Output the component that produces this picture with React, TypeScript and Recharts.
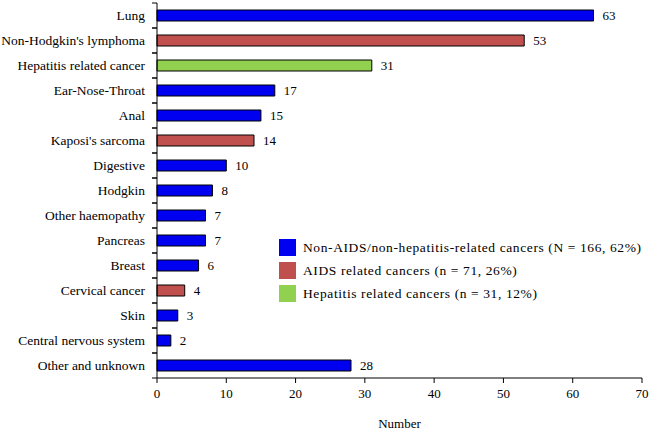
import { BarChart, Bar, XAxis, YAxis, Cell, LabelList } from 'recharts'

const categories = [
  'Lung',
  "Non-Hodgkin's lymphoma",
  'Hepatitis related cancer',
  'Ear-Nose-Throat',
  'Anal',
  "Kaposi's sarcoma",
  'Digestive',
  'Hodgkin',
  'Other haemopathy',
  'Pancreas',
  'Breast',
  'Cervical cancer',
  'Skin',
  'Central nervous system',
  'Other and unknown',
]
const counts = [63, 53, 31, 17, 15, 14, 10, 8, 7, 7, 6, 4, 3, 2, 28]
// 0 = non-AIDS/non-hepatitis, 1 = AIDS related, 2 = hepatitis related
const groups = [0, 1, 2, 0, 0, 1, 0, 0, 0, 0, 0, 1, 0, 0, 0]

const groupNames = [
  'Non-AIDS/non-hepatitis-related cancers (N = 166, 62%)',
  'AIDS related cancers (n = 71, 26%)',
  'Hepatitis related cancers (n = 31, 12%)',
]
const groupColors = ['#0000F0', '#C0504D', '#92D050']
const xTicks = [0, 10, 20, 30, 40, 50, 60, 70]

const data = categories.map((name, i) => ({ name, value: counts[i], group: groups[i] }))

const FONT = 'Liberation Serif'

function CategoryTick(props: any) {
  const { x, y, payload } = props
  const half = payload.offset ?? 12.5
  return (
    <g>
      <text x={x} y={y} dy={4} textAnchor="end" fontFamily={FONT} fontSize={13.5} fill="#000">
        {payload.value}
      </text>
      <line x1={x + 7} x2={x + 12} y1={y - half} y2={y - half} stroke="#000" />
      <line x1={x + 7} x2={x + 12} y1={y + half} y2={y + half} stroke="#000" />
    </g>
  )
}

function LegendBox() {
  return (
    <div style={{ position: 'absolute', left: 279, top: 236, fontFamily: FONT, fontSize: 13.5, letterSpacing: 0.6, color: '#000' }}>
      {groupNames.map((g, i) => (
        <div key={g} style={{ display: 'flex', alignItems: 'center', height: 23 }}>
          <span style={{ display: 'inline-block', width: 17, height: 17, background: groupColors[i], marginRight: 7 }} />
          <span>{g}</span>
        </div>
      ))}
    </div>
  )
}

export default function App() {
  return (
    <div style={{ position: 'absolute', left: 0, top: 0, width: 651, height: 437, background: '#fff' }}>
      <BarChart
        width={651}
        height={437}
        data={data}
        layout="vertical"
        margin={{ top: 3, right: 9, bottom: 9, left: 0 }}
        barSize={11}
      >
        <XAxis
          type="number"
          domain={[0, 70]}
          ticks={xTicks}
          tickSize={5}
          tickMargin={6}
          stroke="#000"
          height={50}
          tick={{ fontFamily: FONT, fontSize: 13, fill: '#000' }}
          label={{ value: 'Number', position: 'insideBottom', offset: 0, fontFamily: FONT, fontSize: 13, fill: '#000' }}
        />
        <YAxis
          type="category"
          dataKey="name"
          width={157}
          tickSize={5}
          tickMargin={7}
          tickLine={false}
          stroke="#000"
          interval={0}
          tick={<CategoryTick />}
        />
        <Bar dataKey="value" stroke="#000" strokeWidth={1} isAnimationActive={false}>
          {data.map((d) => (
            <Cell key={d.name} fill={groupColors[d.group]} />
          ))}
          <LabelList dataKey="value" position="right" offset={9} fontFamily={FONT} fontSize={13} fill="#000" />
        </Bar>
      </BarChart>
      <LegendBox />
    </div>
  )
}
